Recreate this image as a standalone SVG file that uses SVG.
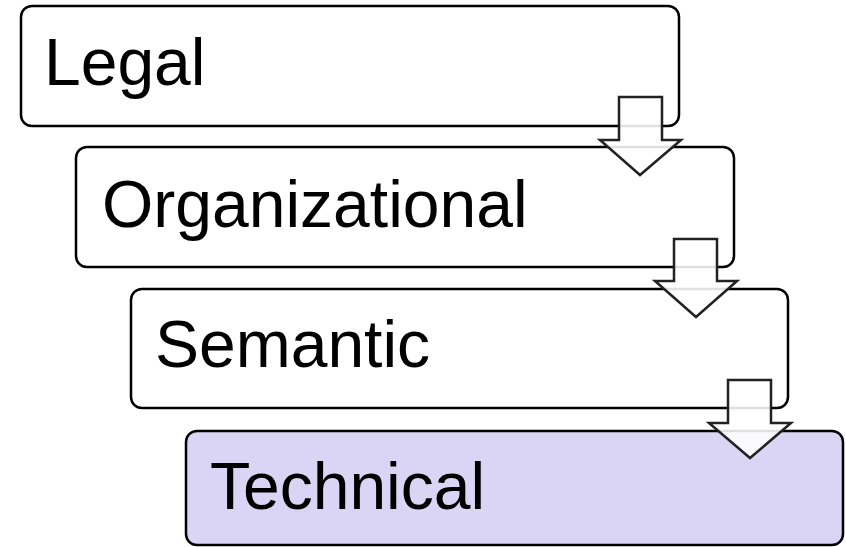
<svg xmlns="http://www.w3.org/2000/svg" width="846" height="547" viewBox="0 0 846 547">
  <style>
    .box { fill: #ffffff; stroke: #000000; stroke-width: 2.5; }
    .box.hi { fill: #dad5f5; }
    .label { font-family: "Liberation Sans", Arial, sans-serif; font-size: 66px; fill: #000000; }
    .arrow { fill: #ffffff; fill-opacity: 0.88; stroke: #222222; stroke-width: 2.5; stroke-linejoin: miter; }
  </style>
  <rect width="846" height="547" fill="#ffffff"/>

  <g id="legal">
    <rect class="box" x="21" y="6" width="658" height="120" rx="11"/>
    <text class="label" x="44" y="85">Legal</text>
  </g>
  <g id="organizational">
    <rect class="box" x="76" y="147" width="658" height="120" rx="11"/>
    <text class="label" x="102" y="227">Organizational</text>
  </g>
  <g id="semantic">
    <rect class="box" x="131" y="289" width="657" height="119" rx="11"/>
    <text class="label" x="155" y="367">Semantic</text>
  </g>
  <g id="technical">
    <rect class="box hi" x="186" y="431" width="657" height="114" rx="11"/>
    <text class="label" x="210" y="509">Technical</text>
  </g>

  <g id="connectors">
    <path class="arrow" d="M619,97 H662 V140 H681 L640,175 L600,140 H619 Z"/>
    <path class="arrow" d="M674,239 H717 V281 H737 L696,317 L655,281 H674 Z"/>
    <path class="arrow" d="M728,380 H771 V423 H791 L750,458 L709,423 H728 Z"/>
  </g>
</svg>
